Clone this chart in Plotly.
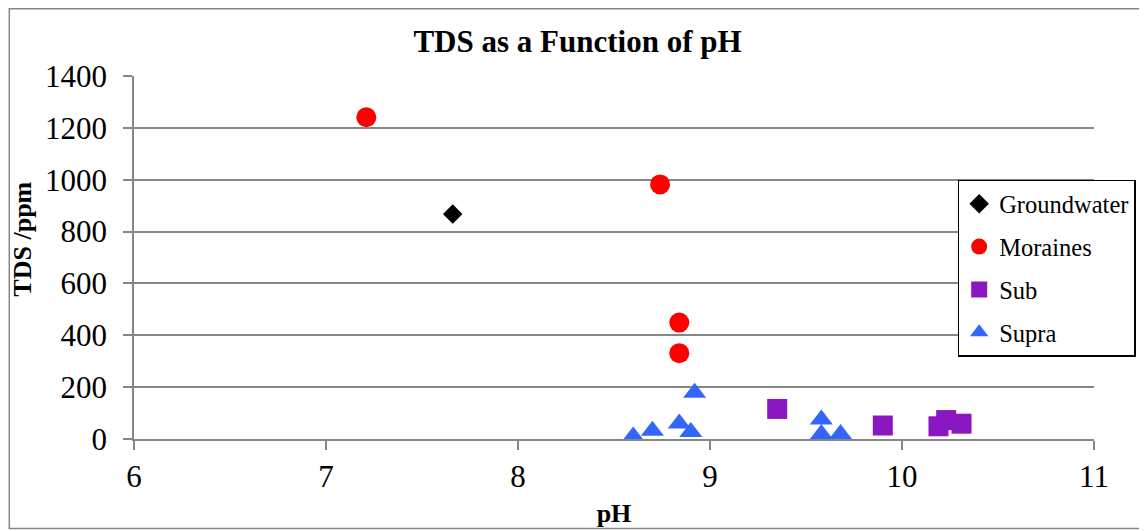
import plotly.graph_objects as go

# Data
groundwater_ph = [7.66]
groundwater_tds = [868]

moraines_ph = [7.21, 8.74, 8.84, 8.84]
moraines_tds = [1241, 982, 449, 331]

sub_ph = [9.35, 9.90, 10.19, 10.23, 10.31]
sub_tds = [116, 52, 49, 73, 59]

supra_ph = [8.60, 8.70, 8.84, 8.90, 8.92, 9.58, 9.58, 9.68]
supra_tds = [10, 32, 60, 27, 178, 75, 19, 19]

x_ticks = [6, 7, 8, 9, 10, 11]
y_ticks = [0, 200, 400, 600, 800, 1000, 1200, 1400]

FONT = "Liberation Serif"
GRAY = "#868686"

fig = go.Figure()
fig.add_trace(go.Scatter(x=groundwater_ph, y=groundwater_tds, mode="markers", name="Groundwater",
                         legendgroup="g", marker=dict(symbol="diamond", size=15, color="#000000")))
fig.add_trace(go.Scatter(x=moraines_ph, y=moraines_tds, mode="markers", name="Moraines",
                         legendgroup="m", marker=dict(symbol="circle", size=20, color="#FF0000")))
fig.add_trace(go.Scatter(x=sub_ph, y=sub_tds, mode="markers", name="Sub",
                         legendgroup="s", marker=dict(symbol="square", size=20, color="#8B17C3")))
fig.add_trace(go.Scatter(x=supra_ph, y=supra_tds, mode="markers", name="Supra",
                         legendgroup="u", marker=dict(symbol="triangle-up", size=20, color="#3366FF")))

fig.update_layout(
    width=1139, height=523,
    margin=dict(l=125.5, r=53, t=68, b=91.7, autoexpand=False),
    paper_bgcolor="white", plot_bgcolor="white",
    font=dict(family=FONT, color="black"),
    title=dict(text="<b>TDS as a Function of pH</b>", x=0.5, xref="container", xanchor="center",
               y=0.936, yref="container", yanchor="middle", font=dict(size=31, family=FONT)),
    showlegend=True,
    legend=dict(x=0.858, y=0.714, xanchor="left", yanchor="top",
                bordercolor="black", borderwidth=1.5, bgcolor="white",
                font=dict(size=24.5, family=FONT), tracegroupgap=8,
                itemsizing="trace"),
    xaxis=dict(range=[6, 11], tickvals=x_ticks, ticktext=[str(v) for v in x_ticks],
               showgrid=False, zeroline=False, showline=True, linecolor=GRAY, linewidth=1.5,
               ticks="outside", ticklen=9, tickcolor=GRAY, tickwidth=1.5,
               tickfont=dict(size=31, family=FONT),
               title=dict(text="<b>pH</b>", font=dict(size=26, family=FONT), standoff=11)),
    yaxis=dict(range=[0, 1400], tickvals=y_ticks, ticktext=[str(v) for v in y_ticks],
               showgrid=True, gridcolor=GRAY, gridwidth=1.5, zeroline=False,
               showline=True, linecolor=GRAY, linewidth=1.5,
               ticks="outside", ticklen=9, tickcolor=GRAY, tickwidth=1.5,
               tickfont=dict(size=31, family=FONT), ticklabelstandoff=10),
    annotations=[dict(text="<b>TDS /ppm</b>", textangle=-90, xref="paper", yref="paper",
                      x=-0.116, y=0.551, xanchor="center", yanchor="middle", showarrow=False,
                      font=dict(size=26, family=FONT))],
)

# outer chart border
fig.add_shape(type="rect", xref="paper", yref="paper",
              x0=-0.1299, x1=1.0531, y0=-0.2468, y1=1.1851,
              line=dict(color=GRAY, width=1.5), fillcolor="rgba(0,0,0,0)", layer="below")

fig.write_html("out.html")
